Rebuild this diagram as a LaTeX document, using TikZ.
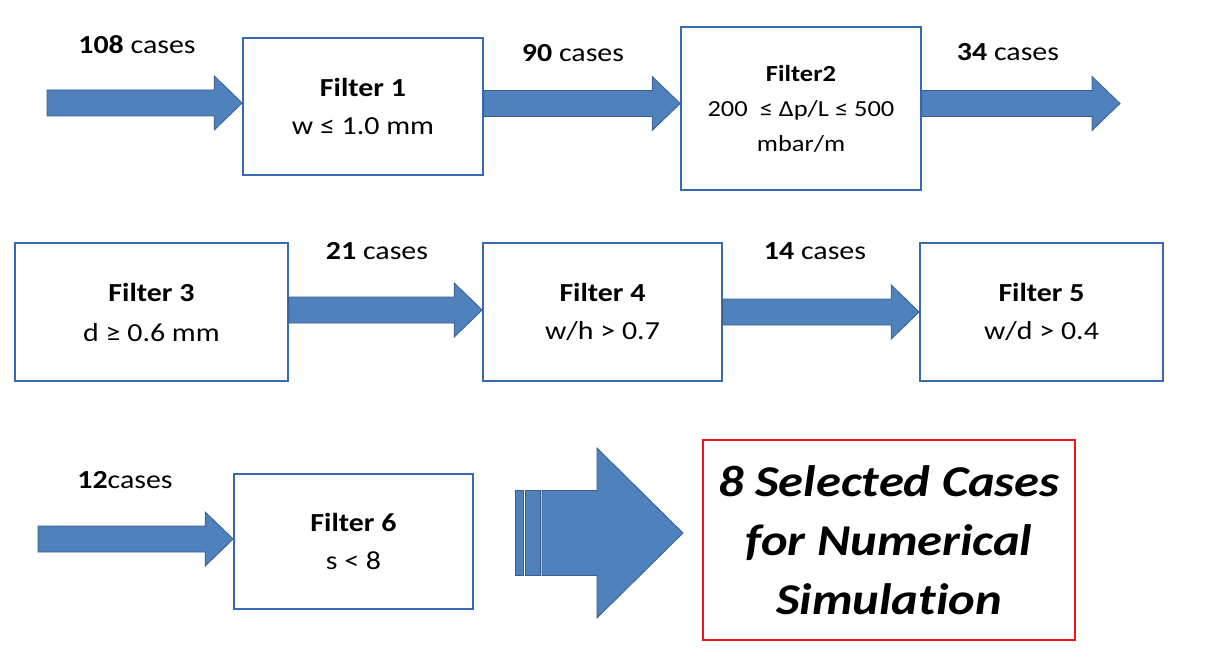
\documentclass[tikz,border=0pt]{standalone}
\usepackage{fontspec}
\setmainfont[FakeStretch=1.15,Ligatures=NoCommon]{Carlito}
\usetikzlibrary{calc}
\definecolor{arrowblue}{RGB}{79,129,189}
\definecolor{arrowline}{RGB}{56,93,138}
\definecolor{boxblue}{RGB}{52,106,182}
\definecolor{redline}{RGB}{240,20,20}
\tikzset{
  filterbox/.style={draw=boxblue, line width=1.6pt, fill=white, align=center, inner sep=0pt,
    font=\fontsize{26}{38}\selectfont},
  caselabel/.style={font=\fontsize{26}{30}\selectfont, inner sep=0pt},
  arrowbody/.style={fill=arrowblue, draw=arrowline, line width=0.8pt, line join=miter},
}
% block arrow from #1 (start point, its y is used) to the x of #2
\newcommand\blockarr[2]{%
  \path[arrowbody] let \p1=(#1), \p2=(#2) in
    (\x1,\y1+13pt) -- (\x2-28pt,\y1+13pt) -- (\x2-28pt,\y1+27pt) -- (\x2,\y1)
    -- (\x2-28pt,\y1-27pt) -- (\x2-28pt,\y1-13pt) -- (\x1,\y1-13pt) -- cycle;}
\begin{document}
\begin{tikzpicture}[x=1pt,y=-1pt]
\useasboundingbox (0,0) rectangle (1211,658);
% row 1
\node[filterbox, minimum width=240pt, minimum height=137pt] (f1) at (363,106.5)
  {\textbf{Filter 1}\\w ≤ 1.0 mm};
\node[filterbox, minimum width=240pt, minimum height=163pt,
  font=\fontsize{23}{35}\selectfont] (f2) at (801,108.5)
  {\textbf{Filter2}\\200 \ ≤ Δp/L ≤ 500\\mbar/m};
% row 2
\node[filterbox, minimum width=273pt, minimum height=138pt,
  font=\fontsize{26}{40}\selectfont] (f3) at (151.5,312)
  {\textbf{Filter 3}\\d ≥ 0.6 mm};
\node[filterbox, minimum width=239pt, minimum height=138pt] (f4) at (602.5,312)
  {\textbf{Filter 4}\\w/h > 0.7};
\node[filterbox, minimum width=243pt, minimum height=138pt] (f5) at (1041.5,312)
  {\textbf{Filter 5}\\w/d > 0.4};
% row 3
\node[filterbox, minimum width=239pt, minimum height=135pt] (f6) at (353.5,541.5)
  {\textbf{Filter 6}\\s < 8};
\node[draw=redline, line width=1.8pt, fill=white, align=center, inner sep=0pt,
  minimum width=372pt, minimum height=200pt,
  font=\fontsize{44}{59}\selectfont\bfseries\itshape] (res) at (889,540)
  {8 Selected Cases\\for Numerical\\Simulation};
% labels
\node[caselabel] (l108) at (137,45) {\textbf{108} cases};
\node[caselabel] (l90) at (573,53) {\textbf{90} cases};
\node[caselabel] (l34) at (1008,52) {\textbf{34} cases};
\node[caselabel] (l21) at (377,251) {\textbf{21} cases};
\node[caselabel] (l14) at (815,251) {\textbf{14} cases};
\node[caselabel] (l12) at (125,480) {\textbf{12}cases};
% free ends
\coordinate (s1) at (47,103);
\coordinate (e3) at (1120,101);
\coordinate (s6) at (38,539);
% arrows
\blockarr{s1}{f1.west}
\blockarr{$(f1.east)+(0,-3)$}{f2.west}
\blockarr{$(f2.east)+(0,-5)$}{e3}
\blockarr{$(f3.east)+(0,-2)$}{f4.west}
\blockarr{f4.east}{f5.west}
\blockarr{s6}{f6.west}
% big striped arrow
\coordinate (bs) at (515,533);
\coordinate (bt) at (683,533);
\path[arrowbody] (bs) ++(0,-42.5) rectangle ++(8,85);
\path[arrowbody] (bs) ++(10,-42.5) rectangle ++(15,85);
\path[arrowbody] let \p1=($(bs)+(27,0)$), \p2=(bt) in
  (\x1,\y1+42.5pt) -- (597,\y1+42.5pt) -- (597,\y1+85pt) -- (\x2,\y2)
  -- (597,\y1-85pt) -- (597,\y1-42.5pt) -- (\x1,\y1-42.5pt) -- cycle;
\end{tikzpicture}
\end{document}
